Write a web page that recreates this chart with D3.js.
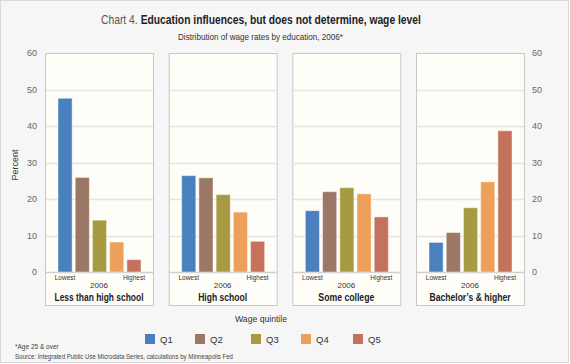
<!DOCTYPE html>
<html lang="en">
<head>
    <script src="https://d3js.org/d3.v7.min.js"></script>
    <style>
        body { margin: 0; background: #fff; }
        svg { font-family: "Liberation Sans", Arial, sans-serif; }
        .tick-label { font-size: 9px; fill: #666; }
        .small { font-size: 6.5px; fill: #333; }
    </style>
</head>
<body>
<div id="chart"></div>
<script>
    var levels = ["Less than high school", "High school", "Some college", "Bachelor\u2019s & higher"];
    var levelWidths = [89, 49, 56, 81];
    var quintiles = ["Q1", "Q2", "Q3", "Q4", "Q5"];
    var colors = ["#4a80be", "#9b7766", "#a69b42", "#eca05a", "#c5725c"];
    var lessThanHS = [47.6, 25.9, 14.2, 8.2, 3.4];
    var highSchool = [26.4, 25.8, 21.2, 16.4, 8.4];
    var someCollege = [16.8, 22.0, 23.1, 21.4, 15.1];
    var bachelors = [8.1, 10.8, 17.6, 24.7, 38.7];
    var yTicks = [0, 10, 20, 30, 40, 50, 60];

    var series = [lessThanHS, highSchool, someCollege, bachelors];

    var w = 570, h = 364;
    var svg = d3.select("#chart").append("svg")
        .attr("width", w)
        .attr("height", h);

    svg.append("rect")
        .attr("x", 0.5).attr("y", 0.5)
        .attr("width", w - 2).attr("height", h - 2)
        .attr("fill", "#f6f6f6")
        .attr("stroke", "#d8d8d8");

    // title: two pieces, condensed with a horizontal scale to match the original width
    var titleG = svg.append("g");
    var t1 = titleG.append("text")
        .style("font-size", "13.5px")
        .attr("fill", "#555")
        .text("Chart 4.");
    var w1 = t1.node().getComputedTextLength();
    var t2 = titleG.append("text")
        .attr("x", w1 + 4)
        .style("font-size", "13.5px")
        .style("font-weight", "bold")
        .attr("fill", "#222")
        .text("Education influences, but does not determine, wage level");
    var w2 = t2.node().getComputedTextLength();
    var sx = 320 / (w1 + 4 + w2);
    titleG.attr("transform", "translate(101,24) scale(" + sx + ",1)");

    svg.append("text")
        .attr("x", 178).attr("y", 40)
        .attr("textLength", 165)
        .attr("lengthAdjust", "spacingAndGlyphs")
        .style("font-size", "9.5px")
        .attr("fill", "#333")
        .text("Distribution of wage rates by education, 2006*");

    var panelX = d3.scaleBand()
        .domain(levels)
        .range([45, 524])
        .paddingInner(0.127);

    var yScale = d3.scaleLinear()
        .domain([0, 60])
        .range([272, 53]);

    var barX = d3.scaleBand()
        .domain(quintiles)
        .range([13, 96])
        .paddingInner(0.18);

    levels.forEach(function(level, i) {
        var g = svg.append("g")
            .attr("transform", "translate(" + panelX(level) + ",0)");

        g.append("rect")
            .attr("x", 0.5).attr("y", 53.5)
            .attr("width", panelX.bandwidth()).attr("height", 252)
            .attr("fill", "#fffdf7")
            .attr("stroke", "#c8c8c8");

        g.selectAll("line.grid")
            .data(yTicks.slice(1, -1).concat([0]))
            .enter()
            .append("line")
            .attr("x1", 1).attr("x2", panelX.bandwidth())
            .attr("y1", d => Math.round(yScale(d)) + 0.5)
            .attr("y2", d => Math.round(yScale(d)) + 0.5)
            .attr("stroke", d => d === 0 ? "#cfcfcf" : "#e4e4e0")
            .attr("stroke-width", 1.5);

        g.selectAll("rect.bar")
            .data(series[i])
            .enter()
            .append("rect")
            .attr("class", "bar")
            .attr("x", (d, j) => barX(quintiles[j]))
            .attr("y", d => yScale(d))
            .attr("width", barX.bandwidth())
            .attr("height", d => yScale(0) - yScale(d))
            .attr("fill", (d, j) => colors[j])
            .attr("stroke", "rgba(255,255,255,0.45)")
            .attr("stroke-width", 1);

        g.append("text")
            .attr("class", "small")
            .attr("x", barX("Q1") + barX.bandwidth() / 2)
            .attr("y", 280)
            .attr("text-anchor", "middle")
            .text("Lowest");
        g.append("text")
            .attr("class", "small")
            .attr("x", barX("Q5") + barX.bandwidth() / 2)
            .attr("y", 280)
            .attr("text-anchor", "middle")
            .text("Highest");
        g.append("text")
            .attr("x", panelX.bandwidth() / 2)
            .attr("y", 288)
            .attr("text-anchor", "middle")
            .style("font-size", "8px")
            .attr("fill", "#333")
            .text("2006");
        g.append("text")
            .attr("x", (panelX.bandwidth() - levelWidths[i]) / 2)
            .attr("y", 301)
            .attr("textLength", levelWidths[i])
            .attr("lengthAdjust", "spacingAndGlyphs")
            .style("font-size", "11px")
            .style("font-weight", "bold")
            .attr("fill", "#222")
            .text(level);
    });

    // axes labels left and right
    svg.selectAll("text.yl")
        .data(yTicks)
        .enter()
        .append("text")
        .attr("class", "tick-label")
        .attr("x", 37)
        .attr("y", d => yScale(d) + 3)
        .attr("text-anchor", "end")
        .text(d => d);

    svg.selectAll("text.yr")
        .data(yTicks)
        .enter()
        .append("text")
        .attr("class", "tick-label")
        .attr("x", 532)
        .attr("y", d => yScale(d) + 3)
        .attr("text-anchor", "start")
        .text(d => d);

    svg.append("text")
        .attr("transform", "translate(18,165) rotate(-90)")
        .attr("text-anchor", "middle")
        .style("font-size", "9px")
        .attr("fill", "#333")
        .text("Percent");

    svg.append("text")
        .attr("x", 235).attr("y", 322)
        .attr("textLength", 52)
        .attr("lengthAdjust", "spacingAndGlyphs")
        .style("font-size", "9.5px")
        .attr("fill", "#333")
        .text("Wage quintile");

    var legendX = [145, 195, 251, 301, 353];
    quintiles.forEach(function(q, i) {
        svg.append("rect")
            .attr("x", legendX[i]).attr("y", 334)
            .attr("width", 10).attr("height", 10)
            .attr("fill", colors[i]);
        svg.append("text")
            .attr("x", legendX[i] + 15).attr("y", 343)
            .style("font-size", "9.5px")
            .attr("fill", "#333")
            .text(q);
    });

    svg.append("text")
        .attr("x", 15).attr("y", 349)
        .style("font-size", "6.5px")
        .attr("fill", "#444")
        .text("*Age 25 & over");
    svg.append("text")
        .attr("x", 15).attr("y", 359)
        .attr("textLength", 218)
        .attr("lengthAdjust", "spacingAndGlyphs")
        .style("font-size", "7px")
        .attr("fill", "#444")
        .text("Source: Integrated Public Use Microdata Series, calculations by Minneapolis Fed");
</script>
</body>
</html>
